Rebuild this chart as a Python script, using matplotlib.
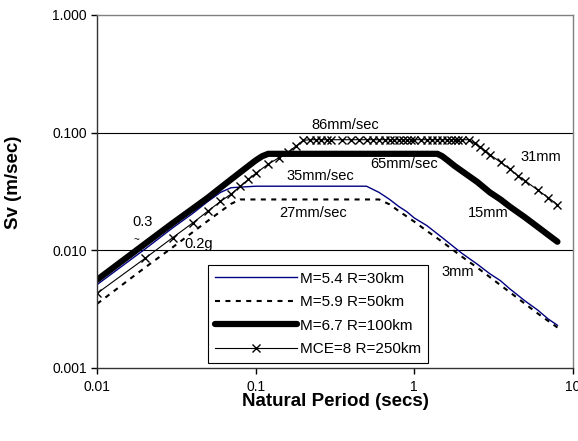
import matplotlib
matplotlib.use("Agg")
import matplotlib.pyplot as plt
from matplotlib.ticker import FixedLocator, FixedFormatter, NullLocator

plt.rcParams['font.family'] = ['Liberation Sans', 'DejaVu Sans']

# response spectra, Sv (m/sec) against natural period (secs)
t_m54 = [0.01, 0.02, 0.03, 0.04, 0.05, 0.06, 0.07, 0.1, 0.2, 0.3, 0.4, 0.5,
         0.6, 0.7, 0.8, 0.9, 1.0, 1.2, 1.5, 2.0, 2.5, 3.0, 3.5, 4.0, 5.0,
         6.0, 7.0, 8.0]
sv_m54 = [0.0051, 0.0102, 0.0155, 0.0205, 0.026, 0.031, 0.034, 0.035, 0.035,
          0.035, 0.035, 0.035, 0.031, 0.027, 0.0235, 0.0212, 0.0188, 0.0162,
          0.0128, 0.0094, 0.0076, 0.0063, 0.0055, 0.0047, 0.0037, 0.0031,
          0.0026, 0.0023]

t_m59 = [0.01, 0.02, 0.03, 0.04, 0.05, 0.06, 0.07, 0.08, 0.1, 0.2, 0.3, 0.4,
         0.5, 0.6, 0.7, 0.8, 1.0, 1.2, 1.5, 2.0, 2.5, 3.0, 4.0, 5.0, 6.0,
         7.0, 8.0]
sv_m59 = [0.0035, 0.0071, 0.0106, 0.0142, 0.0178, 0.0213, 0.0248, 0.027,
          0.027, 0.027, 0.027, 0.027, 0.027, 0.027, 0.0245, 0.0215, 0.0175,
          0.0146, 0.0118, 0.0088, 0.0071, 0.0059, 0.0044, 0.0035, 0.0029,
          0.0025, 0.0022]

t_m67 = [0.01, 0.02, 0.03, 0.04, 0.05, 0.06, 0.07, 0.08, 0.09, 0.1, 0.11,
         0.12, 0.2, 0.5, 1.0, 1.4, 1.5, 1.6, 1.8, 2.0, 2.5, 3.0, 3.5, 4.0,
         5.0, 6.0, 7.0, 8.0]
sv_m67 = [0.0056, 0.0113, 0.017, 0.0225, 0.028, 0.034, 0.040, 0.046, 0.052,
          0.058, 0.063, 0.066, 0.066, 0.066, 0.066, 0.066, 0.063, 0.059,
          0.052, 0.047, 0.038, 0.031, 0.027, 0.0235, 0.019, 0.0158, 0.0135,
          0.0118]

t_mce = [0.01, 0.02, 0.03, 0.04, 0.05, 0.06, 0.07, 0.08, 0.09, 0.10, 0.12,
         0.14, 0.16, 0.18, 0.20, 0.22, 0.24, 0.26, 0.28, 0.30, 0.35, 0.40,
         0.45, 0.50, 0.55, 0.60, 0.65, 0.70, 0.75, 0.80, 0.85, 0.90, 0.95,
         1.0, 1.1, 1.2, 1.3, 1.4, 1.5, 1.6, 1.7, 1.8, 1.9, 2.0, 2.2, 2.4,
         2.6, 2.8, 3.0, 3.5, 4.0, 4.5, 5.0, 6.0, 7.0, 8.0]
sv_mce = [0.0043, 0.0085, 0.0128, 0.017, 0.0215, 0.026, 0.030, 0.035, 0.040,
          0.045, 0.054, 0.061, 0.068, 0.077, 0.086, 0.087, 0.087, 0.087,
          0.087, 0.087, 0.087, 0.087, 0.087, 0.087, 0.087, 0.087, 0.087,
          0.087, 0.087, 0.087, 0.087, 0.087, 0.087, 0.087, 0.087, 0.087,
          0.087, 0.087, 0.087, 0.087, 0.087, 0.087, 0.087, 0.087, 0.087,
          0.081, 0.075, 0.070, 0.065, 0.056, 0.049, 0.043, 0.039, 0.0325,
          0.028, 0.0244]

labels = ['M=5.4 R=30km', 'M=5.9 R=50km', 'M=6.7 R=100km', 'MCE=8 R=250km']

x_ticks = [0.01, 0.1, 1, 10]
x_labels = ['0.01', '0.1', '1', '10']
y_ticks = [0.001, 0.01, 0.1, 1]
y_labels = ['0.001', '0.010', '0.100', '1.000']

# (text, period, Sv, fontsize)
notes = [
    ('86mm/sec', 0.369, 0.1165, 10.5),
    ('65mm/sec', 0.869, 0.0543, 10.5),
    ('35mm/sec', 0.256, 0.043, 10.5),
    ('27mm/sec', 0.232, 0.0209, 10.5),
    ('0.3', 0.0194, 0.0173, 10.5),
    ('~', 0.0178, 0.0121, 7),
    ('0.2g', 0.0437, 0.0112, 10.5),
    ('31mm', 6.25, 0.0623, 10.5),
    ('15mm', 2.94, 0.0209, 10.5),
    ('3mm', 1.875, 0.00658, 10.5),
]

fig = plt.figure(figsize=(5.78, 4.41), dpi=100)
ax = fig.add_axes([0.168, 0.166, 0.823, 0.800])

ax.plot(t_m54, sv_m54, color='#000080', lw=1.0, label=labels[0])
ax.plot(t_m59, sv_m59, color='black', lw=1.5, linestyle=(0, (2.4, 2.6)),
        label=labels[1])
ax.plot(t_m67, sv_m67, color='black', lw=4.5, solid_capstyle='round',
        label=labels[2])
ax.plot(t_mce, sv_mce, color='black', lw=0.8, marker='x', markersize=6,
        markeredgewidth=1.0, label=labels[3])

ax.set_xscale('log')
ax.set_yscale('log')
ax.set_xlim(0.01, 10)
ax.set_ylim(0.001, 1)

ax.xaxis.set_major_locator(FixedLocator(x_ticks))
ax.xaxis.set_major_formatter(FixedFormatter(x_labels))
ax.xaxis.set_minor_locator(NullLocator())
ax.yaxis.set_major_locator(FixedLocator(y_ticks))
ax.yaxis.set_major_formatter(FixedFormatter(y_labels))
ax.yaxis.set_minor_locator(NullLocator())
ax.tick_params(axis='both', direction='out', length=4, width=1.0,
               labelsize=10, colors='black')
ax.tick_params(axis='x', pad=5)

# horizontal gridlines at the inner decades
for yv in y_ticks[1:3]:
    ax.axhline(yv, color='black', lw=0.8, zorder=0)

for side in ['left', 'bottom']:
    ax.spines[side].set_color('#333333')
    ax.spines[side].set_linewidth(1.0)
for side in ['top', 'right']:
    ax.spines[side].set_color('#808080')
    ax.spines[side].set_linewidth(1.0)

ax.set_xlabel('Natural Period (secs)', fontsize=13.5, fontweight='bold')
ax.set_ylabel('Sv (m/sec)', fontsize=13.5, fontweight='bold')
ax.xaxis.set_label_coords(0.5, -0.072)
ax.yaxis.set_label_coords(-0.158, 0.527)

for text, tx, ty, fs in notes:
    ax.text(tx, ty, text, fontsize=fs, ha='center', va='center')

leg = ax.legend(loc='lower left', bbox_to_anchor=(0.233, 0.014),
                borderaxespad=0, fontsize=11, handlelength=5.4,
                handletextpad=0.2, labelspacing=0.62, borderpad=0.45,
                fancybox=False, framealpha=1, edgecolor='black')
leg.get_frame().set_linewidth(0.8)

fig.savefig('out.png', dpi=100)
